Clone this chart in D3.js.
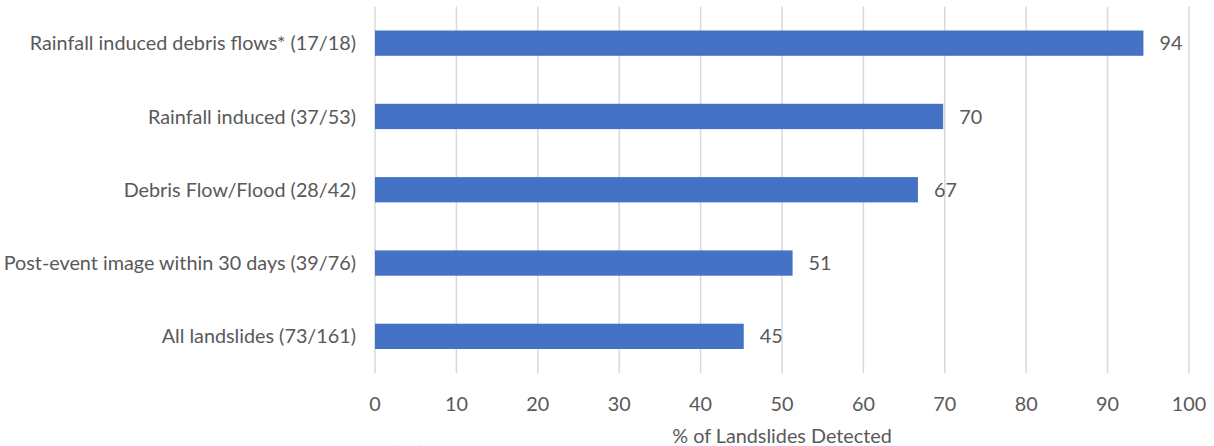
<!DOCTYPE html>
<html><head><meta charset="utf-8">
<script src="https://cdn.jsdelivr.net/npm/d3@7"></script>
<style>body{margin:0;background:#fff;overflow:hidden}svg{display:block}text{font-family:Lato,"Open Sans",sans-serif;fill:#595959}</style>
</head><body>
<svg id="c" width="1214" height="446"></svg>
<script>
const categories = ["Rainfall induced debris flows* (17/18)","Rainfall induced (37/53)","Debris Flow/Flood (28/42)","Post-event image within 30 days (39/76)","All landslides (73/161)"];
const values = [94.4, 69.8, 66.7, 51.3, 45.3];
const labels = ["94","70","67","51","45"];
const xTicks = [0,10,20,30,40,50,60,70,80,90,100];
const xTitle = "% of Landslides Detected";
const note = "*Note: the majority of landslides from event Pura (10) followed and 1 in the results";

(function(){
const svg = d3.select("#c");
const pL = 375, pR = 1189, pT = 6.5, pB = 373;
const fs = 19.8;
const x = d3.scaleLinear().domain([0,100]).range([pL,pR]);
const y = d3.scaleBand().domain(categories).range([pT,pB]).paddingInner(0.655).paddingOuter(0.3275);

svg.append("g").selectAll("line").data(xTicks).join("line")
  .attr("x1",d=>x(d)).attr("x2",d=>x(d)).attr("y1",pT).attr("y2",pB)
  .attr("stroke","#d9d9d9").attr("stroke-width",1.5);

svg.append("g").selectAll("rect").data(values).join("rect")
  .attr("x",x(0)).attr("y",(d,i)=>y(categories[i])).attr("width",d=>x(d)-x(0)).attr("height",y.bandwidth())
  .attr("fill","#4472c4");

svg.append("g").selectAll("text").data(values).join("text")
  .attr("x",d=>x(d)+16).attr("y",(d,i)=>y(categories[i])+y.bandwidth()/2).attr("dy","0.36em")
  .attr("font-size",fs).text((d,i)=>labels[i]);

svg.append("g").selectAll("text").data(categories).join("text")
  .attr("x",pL-19).attr("y",d=>y(d)+y.bandwidth()/2).attr("dy","0.36em").attr("text-anchor","end")
  .attr("font-size",fs).text(d=>d);

svg.append("g").selectAll("text").data(xTicks).join("text")
  .attr("x",d=>x(d)).attr("y",404).attr("dy","0.36em").attr("text-anchor","middle")
  .attr("font-size",fs).text(d=>d);

svg.append("text").attr("x",(pL+pR)/2).attr("y",435.5).attr("dy","0.36em").attr("text-anchor","middle")
  .attr("font-size",fs).text(xTitle);

svg.append("text").attr("x",4).attr("y",459).attr("font-size",18).text(note);
})();
</script>
</body></html>
